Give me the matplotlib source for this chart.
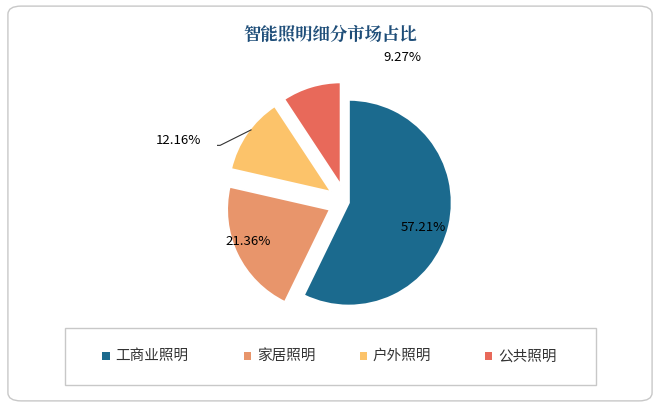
import matplotlib.pyplot as plt
from matplotlib.patches import FancyBboxPatch, Rectangle
plt.rcParams['font.family'] = ['Noto Sans CJK SC', 'DejaVu Sans']

labels = ['工商业照明', '家居照明', '户外照明', '公共照明']
values = [57.21, 21.36, 12.16, 9.27]
colors = ['#1b6a8e', '#e8956b', '#fcc36a', '#e8695a']

fig = plt.figure(figsize=(6.6, 4.07), dpi=100)
fig.patches.append(FancyBboxPatch((0.012, 0.015), 0.976, 0.97, boxstyle='round,pad=0,rounding_size=0.02',
                                  transform=fig.transFigure, fill=False, ec='#c8c8c8', lw=1))
fig.text(0.5, 0.915, '智能照明细分市场占比', ha='center', va='center', fontsize=12.5,
         fontweight='bold', color='#1f4e79', family=['Noto Serif CJK SC', 'Noto Sans CJK SC'])

ax = fig.add_axes([0.29, 0.2, 0.46, 0.62])
wedges, _ = ax.pie(values, colors=colors, startangle=90, counterclock=False,
                   explode=[0.03, 0.17, 0.17, 0.17],
                   wedgeprops=dict(edgecolor='white', linewidth=1.5))
ax.set_aspect('equal')
ax.text(0.75, -0.25, '57.21%', ha='center', va='center', fontsize=9.5)
ax.text(-0.95, -0.38, '21.36%', ha='center', va='center', fontsize=9.5)
ax.text(-1.62, 0.6, '12.16%', ha='center', va='center', fontsize=9.5)
ax.plot([-1.34, -1.22, -0.92], [0.55, 0.55, 0.7], color='#333333', lw=0.8)
ax.text(0.55, 1.4, '9.27%', ha='center', va='center', fontsize=9.5)
ax.set_xlim(-1.25, 1.2)
ax.set_ylim(-1.2, 1.25)

fig.patches.append(Rectangle((0.098, 0.055), 0.805, 0.14, transform=fig.transFigure,
                             fill=False, ec='#c8c8c8', lw=1))
xs = [0.155, 0.37, 0.545, 0.735]
for x, lab, c in zip(xs, labels, colors):
    fig.patches.append(Rectangle((x, 0.116), 0.011, 0.018, transform=fig.transFigure, fc=c, ec='none'))
    fig.text(x + 0.02, 0.125, lab, va='center', fontsize=10.5, color='#333333')

fig.savefig('out.png', dpi=100)
